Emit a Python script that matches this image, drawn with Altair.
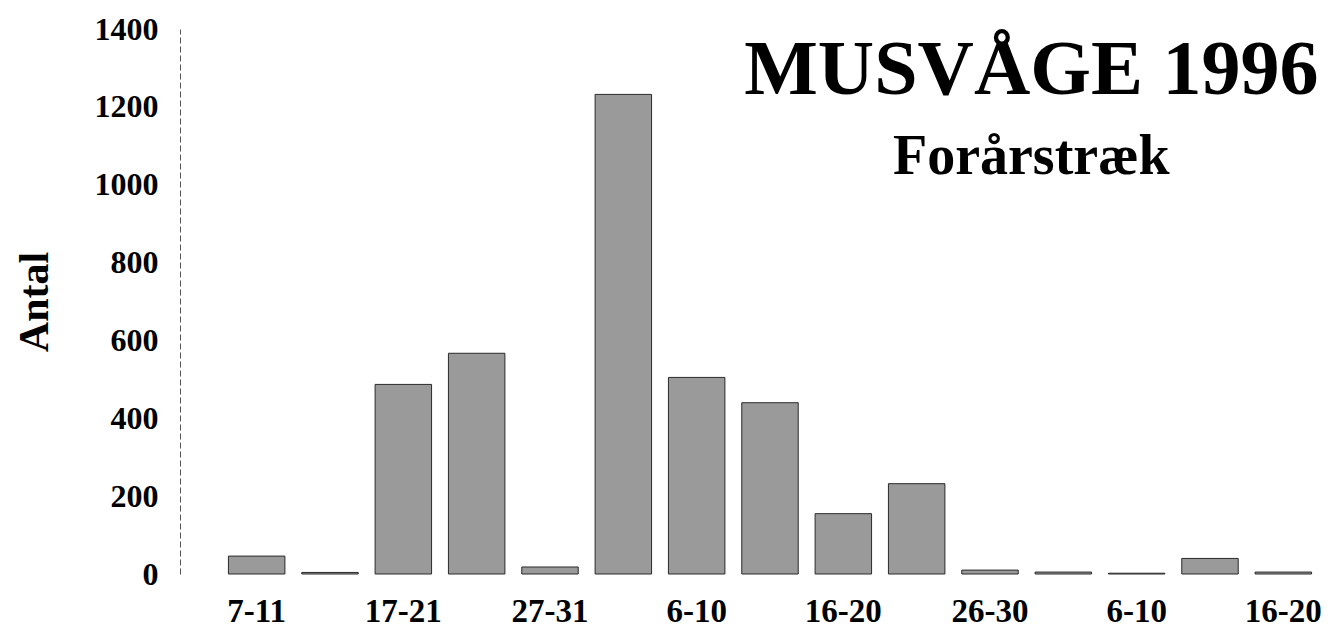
import altair as alt
import pandas as pd

periods = ["7-11", "12-16", "17-21", "22-26", "27-31", "1-5", "6-10", "11-15",
           "16-20", "21-25", "26-30", "1-5", "6-10", "11-15", "16-20"]
months = ["mar", "mar", "mar", "mar", "mar", "apr", "apr", "apr",
          "apr", "apr", "apr", "maj", "maj", "maj", "maj"]
counts = [46, 4, 487, 567, 18, 1232, 505, 440, 155, 232, 10, 5, 2, 40, 5]

keys = [f"{p} {m}" for p, m in zip(periods, months)]
df = pd.DataFrame({"key": keys, "period": periods, "antal": counts})

shown = [k for i, k in enumerate(keys) if i % 2 == 0]
shown_js = "[" + ",".join(f"'{k}'" for k in shown) + "]"
label_expr = f"indexof({shown_js}, datum.value) >= 0 ? split(datum.value, ' ')[0] : ''"

FONT = "Liberation Serif"

chart = alt.Chart(df).mark_bar(
    color="#9a9a9a", stroke="#2a2a2a", strokeWidth=1
).encode(
    x=alt.X("key:N", sort=keys, title=None,
            scale=alt.Scale(paddingInner=0.23, paddingOuter=0.115),
            axis=alt.Axis(labelExpr=label_expr, labelAngle=0, domain=False, ticks=False,
                          grid=False,
                          labelFont=FONT, labelFontSize=33, labelFontWeight="bold",
                          labelColor="black", labelPadding=21)),
    y=alt.Y("antal:Q", title="Antal",
            scale=alt.Scale(domain=[0, 1400]),
            axis=alt.Axis(values=[0, 200, 400, 600, 800, 1000, 1200, 1400], format="d",
                          grid=False, ticks=False, offset=40,
                          domainColor="#555555", domainDash=[6, 3], domainWidth=1,
                          labelFont=FONT, labelFontSize=32, labelFontWeight="bold",
                          labelColor="black", labelPadding=22,
                          titleFont=FONT, titleFontSize=42, titleFontWeight="bold",
                          titleColor="black", titlePadding=38)),
).properties(
    width=1100,
    height=545,
    view=alt.ViewBackground(strokeOpacity=0, fill="white"),
    title=alt.TitleParams(
        "MUSVÅGE 1996", subtitle="Forårstræk",
        anchor="end", align="center", dx=-290, offset=-172,
        font=FONT, fontSize=78, fontWeight="bold", color="black",
        subtitleFont=FONT, subtitleFontSize=56, subtitleFontWeight="bold",
        subtitleColor="black", subtitlePadding=20,
    ),
).configure_view(strokeOpacity=0).configure(background="white")

chart.save("out.html", embed_options={"renderer": "svg", "actions": False})
